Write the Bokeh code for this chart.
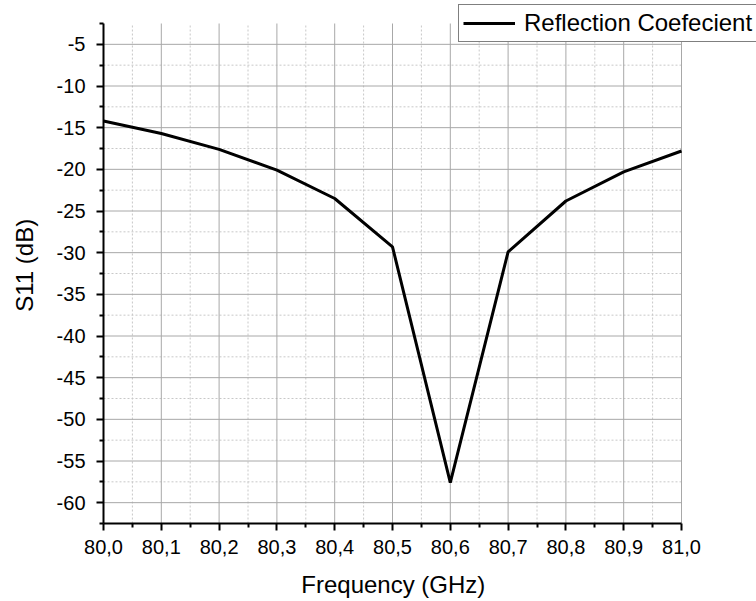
from bokeh.plotting import figure
from bokeh.models import (Range1d, FixedTicker, CustomJSTickFormatter, Legend, LegendItem)
from bokeh.embed import file_html
from bokeh.resources import INLINE

freq_ghz = [80.0, 80.1, 80.2, 80.3, 80.4, 80.5, 80.6, 80.7, 80.8, 80.9, 81.0]
s11_db = [-14.2, -15.7, -17.6, -20.1, -23.5, -29.3, -57.6, -29.9, -23.8, -20.3, -17.8]

x_major = [80.0, 80.1, 80.2, 80.3, 80.4, 80.5, 80.6, 80.7, 80.8, 80.9, 81.0]
x_minor = [80.05, 80.15, 80.25, 80.35, 80.45, 80.55, 80.65, 80.75, 80.85, 80.95]
y_major = [-5, -10, -15, -20, -25, -30, -35, -40, -45, -50, -55, -60]
y_minor = [-2.5, -7.5, -12.5, -17.5, -22.5, -27.5, -32.5, -37.5, -42.5, -47.5, -52.5, -57.5, -62.5]

X_MIN, X_MAX = 80.0, 81.0
Y_MIN, Y_MAX = -62.5, -2.5

FONT = "Liberation Sans"
NBSP = "\u00a0"

# frame spans to the canvas top/right so the legend can sit over the corner;
# axes and grid are bounded to the data area
W, H = 756, 601
LEFT, BOTTOM = 103, 78
AREA_W, AREA_H = 578, 500
fx = (X_MAX - X_MIN) / AREA_W
fy = (Y_MAX - Y_MIN) / AREA_H
x_end = X_MAX + (W - LEFT - AREA_W) * fx
y_end = Y_MAX + (H - BOTTOM - AREA_H) * fy

p = figure(width=W, height=H, output_backend="svg", toolbar_location=None,
           x_range=Range1d(X_MIN, x_end), y_range=Range1d(Y_MIN, y_end),
           min_border_left=LEFT, min_border_right=0, min_border_top=0, min_border_bottom=BOTTOM,
           background_fill_color="white", border_fill_color="white")
p.outline_line_color = None
p.xgrid.visible = False
p.ygrid.visible = False

p.xaxis.ticker = FixedTicker(ticks=x_major, minor_ticks=x_minor)
p.yaxis.ticker = FixedTicker(ticks=y_major, minor_ticks=y_minor)
p.xaxis.bounds = (X_MIN, X_MAX)
p.yaxis.bounds = (Y_MIN, Y_MAX)
p.xaxis.formatter = CustomJSTickFormatter(code="return tick.toFixed(1).replace('.', ',');")
p.yaxis.formatter = CustomJSTickFormatter(code="return tick.toFixed(0);")

for ax in (p.xaxis, p.yaxis):
    ax.axis_line_color = "black"
    ax.axis_line_width = 2
    ax.major_tick_line_color = "black"
    ax.major_tick_line_width = 2
    ax.minor_tick_line_color = "black"
    ax.minor_tick_line_width = 2
    ax.major_tick_out = 7
    ax.major_tick_in = 0
    ax.minor_tick_out = 4
    ax.minor_tick_in = 0
    ax.major_label_text_font = FONT
    ax.major_label_text_font_size = "20px"
    ax.major_label_text_color = "black"
    ax.axis_label_text_font = FONT
    ax.axis_label_text_font_size = "24px"
    ax.axis_label_text_font_style = "normal"
    ax.axis_label_text_color = "black"

# labels centred on the data area (the frame extends past it on the right/top)
p.xaxis.axis_label = "Frequency (GHz)" + NBSP * 11
p.yaxis.axis_label = "S11 (dB)" + NBSP
p.xaxis.major_label_standoff = 9
p.xaxis.axis_label_standoff = 14
p.yaxis.major_label_standoff = 11
p.yaxis.axis_label_standoff = 16

# grid lines (bounded to the data area)
xm = list(x_minor)
ym = [v for v in y_minor if Y_MIN < v < Y_MAX]
p.segment(x0=xm, y0=[Y_MIN] * len(xm), x1=xm, y1=[Y_MAX] * len(xm),
          line_color="#c8c8c8", line_width=1, line_dash="2 2")
p.segment(x0=[X_MIN] * len(ym), y0=ym, x1=[X_MAX] * len(ym), y1=ym,
          line_color="#c8c8c8", line_width=1, line_dash="2 2")
xg = [v for v in x_major if v > X_MIN]
p.segment(x0=xg, y0=[Y_MIN] * len(xg), x1=xg, y1=[Y_MAX] * len(xg),
          line_color="#a8a8a8", line_width=1)
p.segment(x0=[X_MIN] * len(y_major), y0=y_major, x1=[X_MAX] * len(y_major), y1=y_major,
          line_color="#a8a8a8", line_width=1)

r = p.line(freq_ghz, s11_db, line_color="black", line_width=3)

legend = Legend(items=[LegendItem(label="Reflection Coefecient", renderers=[r])],
                location=(355, 481), margin=0, padding=4, spacing=0,
                glyph_width=52, label_standoff=9,
                label_text_font=FONT, label_text_font_size="24px", label_text_color="black",
                border_line_color="black", border_line_width=1,
                background_fill_color="white", background_fill_alpha=1.0)
p.add_layout(legend, "center")

open("out.html", "w").write(file_html(p, INLINE))
